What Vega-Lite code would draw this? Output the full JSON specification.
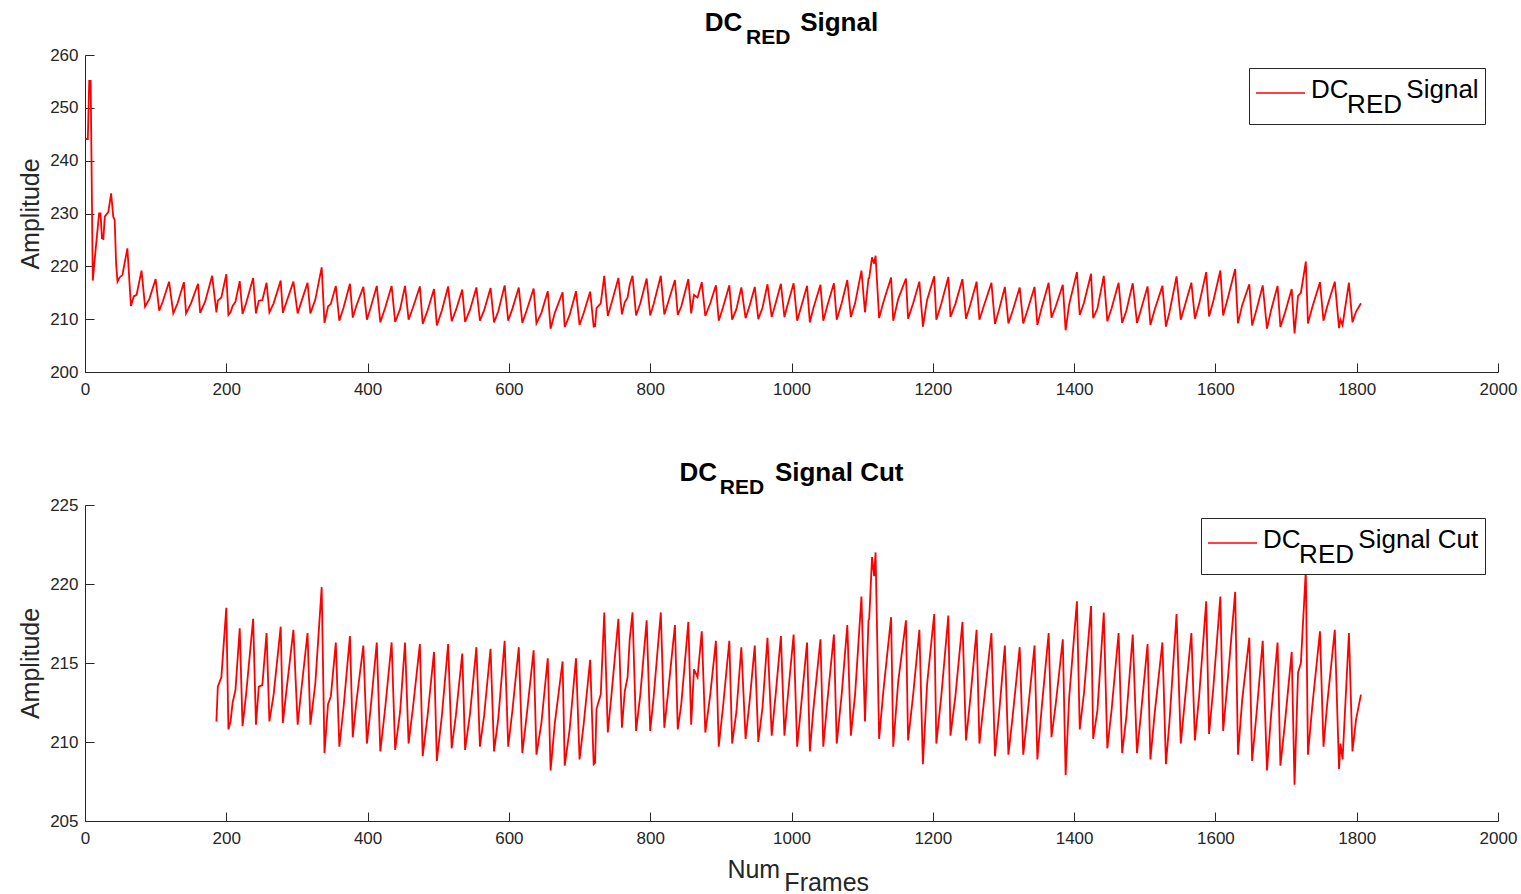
{
  "$schema": "https://vega.github.io/schema/vega-lite/v6.json",
  "background": "white",
  "padding": {"left": 18, "top": 10, "right": 20, "bottom": 5},
  "config": {
    "view": {"stroke": null},
    "font": "Liberation Sans",
    "axis": {
      "grid": false,
      "domainColor": "#262626",
      "tickColor": "#262626",
      "labelColor": "#262626",
      "titleColor": "#262626",
      "labelFont": "Liberation Sans",
      "titleFont": "Liberation Sans",
      "labelFontSize": 17,
      "titleFontSize": 25,
      "titleFontWeight": "normal",
      "tickSize": -9,
      "labelFlush": false,
      "labelOverlap": false,
      "labelBound": false,
      "format": "d"
    },
    "legend": {
      "orient": "top-right",
      "offset": 13,
      "strokeColor": "#262626",
      "fillColor": "white",
      "padding": 6,
      "cornerRadius": 0,
      "symbolType": "stroke",
      "symbolSize": 2401,
      "symbolStrokeWidth": 1.5,
      "labelFont": "Liberation Sans",
      "labelFontSize": 26,
      "labelColor": "black",
      "labelLimit": 0,
      "labelOffset": 5,
      "clipHeight": 25,
      "title": null
    },
    "title": {
      "font": "Liberation Sans",
      "subtitleFont": "Liberation Sans",
      "fontSize": 26,
      "subtitleFontSize": 21,
      "fontWeight": "bold",
      "subtitleFontWeight": "bold",
      "color": "black",
      "subtitleColor": "black",
      "anchor": "middle",
      "subtitlePadding": -9,
      "offset": -2
    }
  },
  "datasets": {
    "sig": [
      {"frame":0,"amplitude":244.1},{"frame":4,"amplitude":244.1},{"frame":6,"amplitude":255.1},{"frame":8,"amplitude":255.1},
      {"frame":11,"amplitude":217.3},{"frame":15,"amplitude":223.1},{"frame":20,"amplitude":230.0},{"frame":22,"amplitude":230.0},
      {"frame":24,"amplitude":225.3},{"frame":26,"amplitude":225.2},{"frame":28,"amplitude":229.4},{"frame":33,"amplitude":230.3},
      {"frame":37,"amplitude":233.8},{"frame":40,"amplitude":229.4},{"frame":42,"amplitude":228.8},{"frame":44,"amplitude":220.6},
      {"frame":46,"amplitude":217.1},{"frame":49,"amplitude":217.9},{"frame":53,"amplitude":218.4},{"frame":60,"amplitude":223.4},
      {"frame":65,"amplitude":212.5},{"frame":69,"amplitude":214.3},{"frame":73,"amplitude":214.6},{"frame":80,"amplitude":219.2},
      {"frame":85,"amplitude":212.4},{"frame":91,"amplitude":213.8},{"frame":100,"amplitude":217.6},{"frame":105,"amplitude":211.6},
      {"frame":110,"amplitude":213.3},{"frame":119,"amplitude":217.1},{"frame":125,"amplitude":211.1},{"frame":131,"amplitude":213.0},
      {"frame":140,"amplitude":217.0},{"frame":143,"amplitude":211.1},{"frame":150,"amplitude":213.0},{"frame":160,"amplitude":216.7},
      {"frame":163,"amplitude":211.2},{"frame":170,"amplitude":213.3},{"frame":180,"amplitude":218.2},{"frame":186,"amplitude":211.3},
      {"frame":188,"amplitude":213.5},{"frame":193,"amplitude":214.1},{"frame":200,"amplitude":218.5},{"frame":203,"amplitude":210.8},
      {"frame":206,"amplitude":211.3},{"frame":209,"amplitude":212.5},{"frame":213,"amplitude":213.3},{"frame":219,"amplitude":217.2},
      {"frame":223,"amplitude":211.0},{"frame":228,"amplitude":213.0},{"frame":238,"amplitude":217.8},{"frame":242,"amplitude":211.1},
      {"frame":246,"amplitude":213.5},{"frame":251,"amplitude":213.6},{"frame":257,"amplitude":216.9},{"frame":261,"amplitude":211.3},
      {"frame":267,"amplitude":213.0},{"frame":277,"amplitude":217.3},{"frame":280,"amplitude":211.2},{"frame":285,"amplitude":213.2},
      {"frame":295,"amplitude":217.1},{"frame":301,"amplitude":211.1},{"frame":305,"amplitude":212.8},{"frame":315,"amplitude":216.9},
      {"frame":319,"amplitude":211.1},{"frame":326,"amplitude":213.7},{"frame":335,"amplitude":219.8},{"frame":339,"amplitude":209.3},
      {"frame":344,"amplitude":212.4},{"frame":348,"amplitude":212.9},{"frame":355,"amplitude":216.3},{"frame":360,"amplitude":209.7},
      {"frame":366,"amplitude":212.2},{"frame":375,"amplitude":216.7},{"frame":379,"amplitude":210.3},{"frame":384,"amplitude":212.5},
      {"frame":394,"amplitude":216.1},{"frame":399,"amplitude":209.9},{"frame":404,"amplitude":212.0},{"frame":413,"amplitude":216.3},
      {"frame":418,"amplitude":209.4},{"frame":425,"amplitude":212.2},{"frame":434,"amplitude":216.3},{"frame":439,"amplitude":209.5},
      {"frame":446,"amplitude":211.9},{"frame":453,"amplitude":216.3},{"frame":458,"amplitude":209.9},{"frame":464,"amplitude":212.1},
      {"frame":474,"amplitude":216.2},{"frame":478,"amplitude":209.1},{"frame":485,"amplitude":211.7},{"frame":494,"amplitude":215.7},
      {"frame":498,"amplitude":208.8},{"frame":505,"amplitude":211.6},{"frame":514,"amplitude":216.2},{"frame":519,"amplitude":209.6},
      {"frame":525,"amplitude":211.7},{"frame":534,"amplitude":215.6},{"frame":538,"amplitude":209.5},{"frame":545,"amplitude":211.8},
      {"frame":554,"amplitude":216.0},{"frame":559,"amplitude":209.7},{"frame":565,"amplitude":211.7},{"frame":574,"amplitude":215.9},
      {"frame":579,"amplitude":209.4},{"frame":585,"amplitude":211.5},{"frame":594,"amplitude":216.4},{"frame":599,"amplitude":209.7},
      {"frame":605,"amplitude":212.0},{"frame":614,"amplitude":216.0},{"frame":619,"amplitude":209.3},{"frame":625,"amplitude":211.6},
      {"frame":635,"amplitude":215.8},{"frame":639,"amplitude":209.2},{"frame":646,"amplitude":211.2},{"frame":655,"amplitude":215.3},
      {"frame":659,"amplitude":208.2},{"frame":665,"amplitude":211.2},{"frame":676,"amplitude":215.1},{"frame":679,"amplitude":208.5},
      {"frame":686,"amplitude":210.8},{"frame":695,"amplitude":215.3},{"frame":700,"amplitude":208.9},{"frame":706,"amplitude":211.2},
      {"frame":715,"amplitude":215.2},{"frame":720,"amplitude":208.6},{"frame":722,"amplitude":208.7},{"frame":724,"amplitude":212.1},
      {"frame":730,"amplitude":213.0},{"frame":735,"amplitude":218.2},{"frame":740,"amplitude":210.6},{"frame":745,"amplitude":212.9},
      {"frame":755,"amplitude":217.8},{"frame":760,"amplitude":210.9},{"frame":764,"amplitude":213.2},{"frame":768,"amplitude":214.1},
      {"frame":771,"amplitude":216.5},{"frame":775,"amplitude":218.2},{"frame":780,"amplitude":210.7},{"frame":786,"amplitude":213.0},
      {"frame":795,"amplitude":217.7},{"frame":800,"amplitude":210.7},{"frame":805,"amplitude":212.9},{"frame":815,"amplitude":218.2},
      {"frame":820,"amplitude":210.9},{"frame":825,"amplitude":213.0},{"frame":835,"amplitude":217.4},{"frame":839,"amplitude":210.8},
      {"frame":844,"amplitude":212.4},{"frame":854,"amplitude":217.6},{"frame":858,"amplitude":211.1},{"frame":862,"amplitude":214.6},
      {"frame":864,"amplitude":214.4},{"frame":867,"amplitude":214.1},{"frame":873,"amplitude":217.0},{"frame":878,"amplitude":210.6},
      {"frame":885,"amplitude":213.0},{"frame":893,"amplitude":216.4},{"frame":897,"amplitude":209.7},{"frame":903,"amplitude":212.2},
      {"frame":912,"amplitude":216.4},{"frame":916,"amplitude":209.9},{"frame":922,"amplitude":211.9},{"frame":929,"amplitude":216.0},
      {"frame":935,"amplitude":210.2},{"frame":941,"amplitude":212.7},{"frame":948,"amplitude":216.1},{"frame":953,"amplitude":210.0},
      {"frame":959,"amplitude":212.2},{"frame":966,"amplitude":216.6},{"frame":972,"amplitude":210.4},{"frame":978,"amplitude":213.2},
      {"frame":985,"amplitude":216.7},{"frame":990,"amplitude":210.4},{"frame":994,"amplitude":212.5},{"frame":1003,"amplitude":216.8},
      {"frame":1008,"amplitude":209.7},{"frame":1013,"amplitude":212.0},{"frame":1022,"amplitude":216.3},{"frame":1026,"amplitude":209.4},
      {"frame":1031,"amplitude":212.1},{"frame":1041,"amplitude":216.5},{"frame":1045,"amplitude":209.7},{"frame":1051,"amplitude":212.7},
      {"frame":1060,"amplitude":216.8},{"frame":1064,"amplitude":209.9},{"frame":1071,"amplitude":213.0},{"frame":1079,"amplitude":217.4},
      {"frame":1084,"amplitude":210.4},{"frame":1090,"amplitude":213.0},{"frame":1099,"amplitude":219.2},{"frame":1104,"amplitude":211.3},
      {"frame":1109,"amplitude":217.7},{"frame":1110,"amplitude":217.8},{"frame":1114,"amplitude":221.7},{"frame":1117,"amplitude":220.5},
      {"frame":1119,"amplitude":222.0},{"frame":1124,"amplitude":210.2},{"frame":1130,"amplitude":213.2},{"frame":1141,"amplitude":217.9},
      {"frame":1144,"amplitude":209.7},{"frame":1151,"amplitude":213.8},{"frame":1162,"amplitude":217.7},{"frame":1165,"amplitude":210.1},
      {"frame":1172,"amplitude":212.9},{"frame":1181,"amplitude":217.1},{"frame":1186,"amplitude":208.6},{"frame":1192,"amplitude":213.7},
      {"frame":1202,"amplitude":218.1},{"frame":1205,"amplitude":209.9},{"frame":1212,"amplitude":212.9},{"frame":1222,"amplitude":218.0},
      {"frame":1225,"amplitude":210.4},{"frame":1232,"amplitude":212.9},{"frame":1242,"amplitude":217.6},{"frame":1247,"amplitude":210.1},
      {"frame":1253,"amplitude":212.7},{"frame":1262,"amplitude":217.1},{"frame":1266,"amplitude":209.9},{"frame":1272,"amplitude":212.4},
      {"frame":1283,"amplitude":216.9},{"frame":1288,"amplitude":209.1},{"frame":1294,"amplitude":211.9},{"frame":1302,"amplitude":216.1},
      {"frame":1307,"amplitude":209.2},{"frame":1313,"amplitude":211.6},{"frame":1323,"amplitude":216.0},{"frame":1328,"amplitude":209.2},
      {"frame":1334,"amplitude":211.7},{"frame":1344,"amplitude":216.1},{"frame":1348,"amplitude":208.9},{"frame":1354,"amplitude":212.1},
      {"frame":1364,"amplitude":216.9},{"frame":1368,"amplitude":210.3},{"frame":1374,"amplitude":212.4},{"frame":1384,"amplitude":216.5},
      {"frame":1388,"amplitude":207.9},{"frame":1393,"amplitude":212.8},{"frame":1404,"amplitude":218.9},{"frame":1408,"amplitude":210.8},
      {"frame":1414,"amplitude":213.1},{"frame":1424,"amplitude":218.6},{"frame":1427,"amplitude":210.2},{"frame":1433,"amplitude":212.0},
      {"frame":1442,"amplitude":218.2},{"frame":1447,"amplitude":209.6},{"frame":1453,"amplitude":212.0},{"frame":1463,"amplitude":216.9},
      {"frame":1468,"amplitude":209.3},{"frame":1474,"amplitude":211.6},{"frame":1483,"amplitude":216.8},{"frame":1489,"amplitude":209.3},
      {"frame":1494,"amplitude":211.5},{"frame":1504,"amplitude":216.2},{"frame":1508,"amplitude":208.9},{"frame":1514,"amplitude":211.8},
      {"frame":1525,"amplitude":216.3},{"frame":1530,"amplitude":208.6},{"frame":1535,"amplitude":211.3},{"frame":1545,"amplitude":218.1},
      {"frame":1551,"amplitude":209.9},{"frame":1557,"amplitude":212.7},{"frame":1566,"amplitude":216.9},{"frame":1571,"amplitude":210.1},
      {"frame":1577,"amplitude":212.9},{"frame":1587,"amplitude":218.9},{"frame":1591,"amplitude":210.5},{"frame":1597,"amplitude":213.4},
      {"frame":1607,"amplitude":219.2},{"frame":1611,"amplitude":210.7},{"frame":1618,"amplitude":214.2},{"frame":1628,"amplitude":219.5},
      {"frame":1632,"amplitude":209.2},{"frame":1638,"amplitude":212.7},{"frame":1648,"amplitude":216.6},{"frame":1652,"amplitude":208.8},
      {"frame":1659,"amplitude":212.2},{"frame":1667,"amplitude":216.4},{"frame":1673,"amplitude":208.2},{"frame":1679,"amplitude":211.8},
      {"frame":1688,"amplitude":216.3},{"frame":1692,"amplitude":208.5},{"frame":1698,"amplitude":211.0},{"frame":1708,"amplitude":215.7},
      {"frame":1712,"amplitude":207.3},{"frame":1717,"amplitude":214.4},{"frame":1721,"amplitude":215.0},{"frame":1728,"amplitude":220.9},
      {"frame":1731,"amplitude":209.2},{"frame":1737,"amplitude":212.2},{"frame":1748,"amplitude":217.0},{"frame":1753,"amplitude":209.7},
      {"frame":1758,"amplitude":212.3},{"frame":1769,"amplitude":217.1},{"frame":1775,"amplitude":208.3},{"frame":1777,"amplitude":209.9},
      {"frame":1780,"amplitude":208.9},{"frame":1789,"amplitude":216.9},{"frame":1794,"amplitude":209.4},{"frame":1799,"amplitude":211.4},
      {"frame":1806,"amplitude":213.0}
    ]
  },
  "spacing": 133,
  "bounds": "flush",
  "vconcat": [
    {
      "width": 1413,
      "height": 317,
      "data": {"name": "sig"},
      "title": {
        "text": "DC\u00a0\u00a0\u00a0\u00a0\u00a0\u00a0\u00a0\u00a0Signal",
        "subtitle": "RED\u00a0\u00a0\u00a0\u00a0\u00a0\u00a0\u00a0\u00a0\u200b"
      },
      "mark": {"type": "line", "strokeWidth": 1.8},
      "encoding": {
        "x": {
          "field": "frame", "type": "quantitative",
          "scale": {"domain": [0, 2000], "nice": false, "zero": false},
          "axis": {"values": [0,200,400,600,800,1000,1200,1400,1600,1800,2000], "title": null, "labelPadding": 18}
        },
        "y": {
          "field": "amplitude", "type": "quantitative",
          "scale": {"domain": [200, 260], "nice": false, "zero": false},
          "axis": {"values": [200,210,220,230,240,250,260], "title": "Amplitude", "labelPadding": 16, "titlePadding": 6}
        },
        "color": {
          "datum": "top",
          "scale": {"range": ["#ff0000"]},
          "legend": {
            "labelExpr": "['DC\u00a0\u00a0\u00a0\u00a0\u00a0\u00a0\u00a0\u00a0Signal', '\u200b\u00a0\u00a0\u00a0\u00a0\u00a0RED']",
            "encode": {
              "labels": {"update": {"lineHeight": {"value": 15}, "dy": {"value": 3}}},
              "symbols": {"update": {"y": {"value": 19}}}
            }
          }
        }
      }
    },
    {
      "width": 1413,
      "height": 316,
      "data": {"name": "sig"},
      "transform": [{"filter": "datum.frame >= 186"}],
      "title": {
        "text": "DC\u00a0\u00a0\u00a0\u00a0\u00a0\u00a0\u00a0\u00a0Signal Cut",
        "subtitle": "RED\u00a0\u00a0\u00a0\u00a0\u00a0\u00a0\u00a0\u00a0\u00a0\u00a0\u00a0\u00a0\u00a0\u00a0\u00a0\u00a0\u00a0\u200b"
      },
      "mark": {"type": "line", "strokeWidth": 1.8},
      "encoding": {
        "x": {
          "field": "frame", "type": "quantitative",
          "scale": {"domain": [0, 2000], "nice": false, "zero": false},
          "axis": {
            "values": [0,200,400,600,800,1000,1200,1400,1600,1800,2000],
            "title": ["Num\u00a0\u00a0\u00a0\u00a0\u00a0\u00a0\u00a0\u00a0\u00a0\u00a0\u00a0\u200b", "\u200b\u00a0\u00a0\u00a0\u00a0\u00a0\u00a0\u00a0\u00a0\u00a0\u00a0Frames"],
            "titleLineHeight": 13,
            "labelPadding": 18,
            "titlePadding": 11
          }
        },
        "y": {
          "field": "amplitude", "type": "quantitative",
          "scale": {"domain": [205, 225], "nice": false, "zero": false},
          "axis": {"values": [205,210,215,220,225], "title": "Amplitude", "labelPadding": 16, "titlePadding": 6}
        },
        "color": {
          "datum": "bottom",
          "scale": {"range": ["#ff0000"]},
          "legend": {
            "labelExpr": "['DC\u00a0\u00a0\u00a0\u00a0\u00a0\u00a0\u00a0\u00a0Signal Cut', '\u200b\u00a0\u00a0\u00a0\u00a0\u00a0RED']",
            "encode": {
              "labels": {"update": {"lineHeight": {"value": 15}, "dy": {"value": 3}}},
              "symbols": {"update": {"y": {"value": 19}}}
            }
          }
        }
      }
    }
  ],
  "resolve": {"scale": {"color": "independent"}, "legend": {"color": "independent"}}
}
